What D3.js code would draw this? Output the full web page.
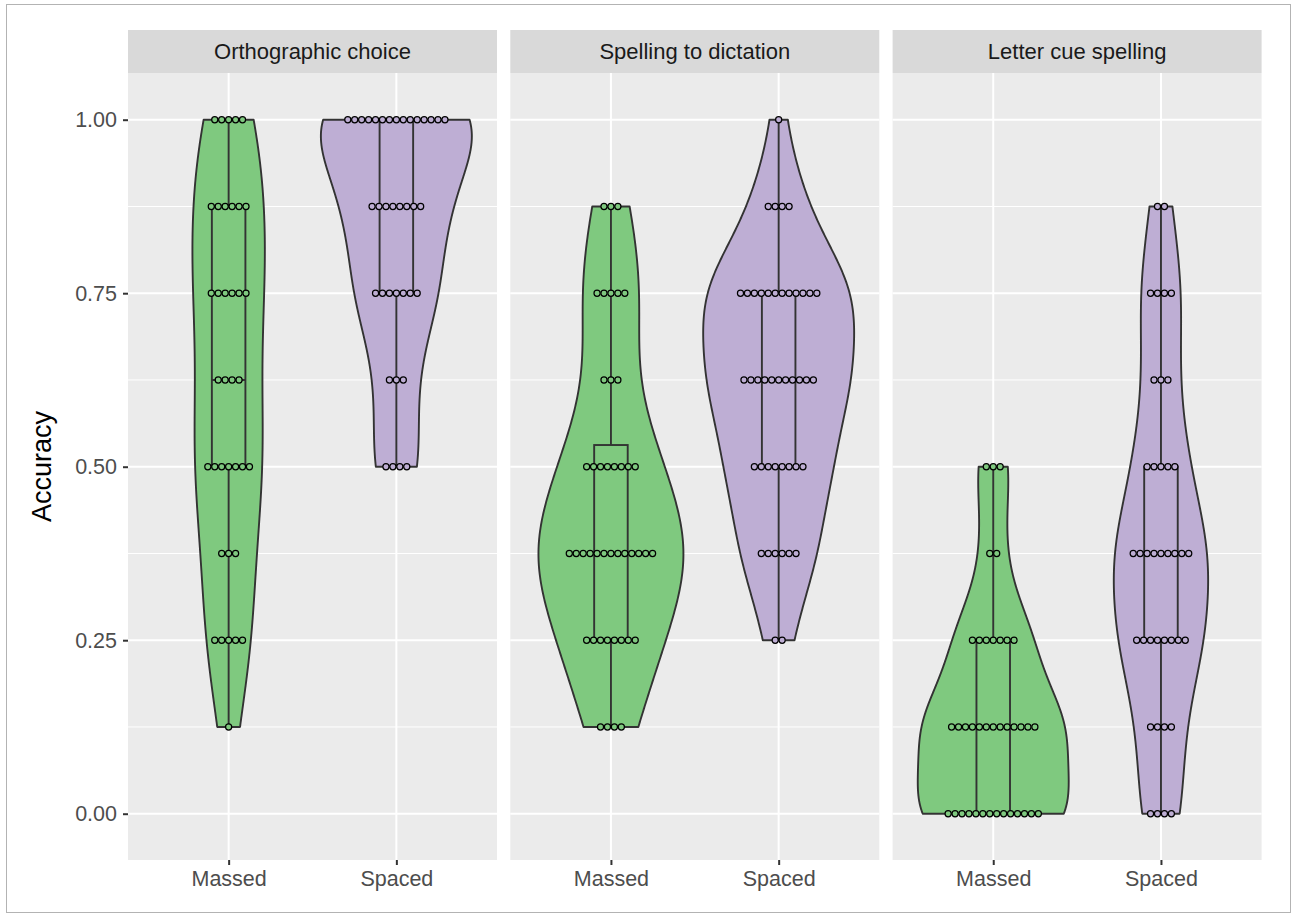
<!DOCTYPE html>
<html>
<head>
<meta charset="utf-8">
<script src="https://cdn.jsdelivr.net/npm/d3@7"></script>
<style>
  body { margin: 0; background: #fff; }
  svg { display: block; }
  text { font-family: "Liberation Sans", Arial, sans-serif; }
</style>
</head>
<body>
<svg id="chart" width="1293" height="917"></svg>
<script>
// facets and groups
const facets = ["Orthographic choice", "Spelling to dictation", "Letter cue spelling"];
const conditions = ["Massed", "Spaced"];
const accuracyLevels = [0, 0.125, 0.25, 0.375, 0.5, 0.625, 0.75, 0.875, 1];
const yTicks = [0, 0.25, 0.5, 0.75, 1];
const yMinor = [0.125, 0.375, 0.625, 0.875];

// number of participants at each accuracy level
const orthoMassed  = [0, 1, 5, 3, 7, 4, 6, 6, 5];
const orthoSpaced  = [0, 0, 0, 0, 4, 3, 7, 8, 15];
const dictMassed   = [0, 4, 8, 13, 8, 3, 5, 3, 0];
const dictSpaced   = [0, 0, 2, 6, 8, 11, 12, 4, 1];
const letterMassed = [14, 13, 7, 2, 3, 0, 0, 0, 0];
const letterSpaced = [4, 4, 8, 9, 5, 3, 4, 2, 0];

const countsByFacet = [
  [orthoMassed, orthoSpaced],
  [dictMassed, dictSpaced],
  [letterMassed, letterSpaced]
];
const colours = { Massed: "#7FC97F", Spaced: "#BEAED4" };

const svg = d3.select("#chart");

const panelTop = 73, panelBottom = 860, stripH = 43;
const panelLeft = 128, panelW = 369, panelGap = 13.3;

const y = d3.scaleLinear().domain([-0.0667, 1.0673]).range([panelBottom, panelTop]);
const x = d3.scalePoint().domain(conditions).range([0, panelW]).padding(0.6);
const dotD = y(0) - y(0.01); // binwidth 0.01

// outer frame
svg.append("rect")
  .attr("x", 6.5).attr("y", 4.5)
  .attr("width", 1284).attr("height", 908)
  .attr("fill", "none").attr("stroke", "#B3B3B3").attr("stroke-width", 1);

function expand(counts) {
  const v = [];
  counts.forEach((c, i) => { for (let k = 0; k < c; k++) v.push(accuracyLevels[i]); });
  return v;
}

function bwNrd0(v) {
  const hi = d3.deviation(v);
  const iqr = d3.quantile(v, 0.75) - d3.quantile(v, 0.25);
  let lo = Math.min(hi, iqr / 1.34);
  if (!lo) lo = hi || Math.abs(v[0]) || 1;
  return 0.9 * lo * Math.pow(v.length, -0.2);
}

function kde(v) {
  const bw = bwNrd0(v);
  const lo = d3.min(v), hi = d3.max(v);
  const n = v.length;
  const pts = [];
  for (let i = 0; i < 512; i++) {
    const t = lo + (hi - lo) * i / 511;
    let s = 0;
    v.forEach(xi => { const z = (t - xi) / bw; s += Math.exp(-0.5 * z * z); });
    pts.push([t, s / (n * bw * Math.sqrt(2 * Math.PI))]);
  }
  return pts;
}

facets.forEach((facet, fi) => {
  const gx = panelLeft + fi * (panelW + panelGap);
  const g = svg.append("g").attr("transform", `translate(${gx},0)`);

  // panel background + grid
  g.append("rect").attr("x", 0).attr("y", panelTop)
    .attr("width", panelW).attr("height", panelBottom - panelTop)
    .attr("fill", "#EBEBEB");
  g.selectAll(".minor").data(yMinor).enter().append("line")
    .attr("x1", 0).attr("x2", panelW)
    .attr("y1", d => y(d)).attr("y2", d => y(d))
    .attr("stroke", "#fff").attr("stroke-width", 1);
  g.selectAll(".major").data(yTicks).enter().append("line")
    .attr("x1", 0).attr("x2", panelW)
    .attr("y1", d => y(d)).attr("y2", d => y(d))
    .attr("stroke", "#fff").attr("stroke-width", 2);
  g.selectAll(".vmajor").data(conditions).enter().append("line")
    .attr("x1", d => x(d)).attr("x2", d => x(d))
    .attr("y1", panelTop).attr("y2", panelBottom)
    .attr("stroke", "#fff").attr("stroke-width", 2);

  // strip
  g.append("rect").attr("x", 0).attr("y", panelTop - stripH)
    .attr("width", panelW).attr("height", stripH).attr("fill", "#D9D9D9");
  g.append("text").attr("x", panelW / 2).attr("y", panelTop - stripH / 2)
    .attr("text-anchor", "middle").attr("dominant-baseline", "central")
    .attr("font-size", 22).attr("fill", "#1A1A1A").text(facet);

  // data
  const groups = conditions.map((c, ci) => {
    const v = expand(countsByFacet[fi][ci]);
    return { cond: c, counts: countsByFacet[fi][ci], values: v, dens: kde(v) };
  });
  const maxDens = d3.max(groups, gr => d3.max(gr.dens, p => p[1]));
  const step = x.step();

  groups.forEach(gr => {
    const xc = x(gr.cond);
    const half = 0.9 * step / 2;
    const left = gr.dens.map(p => [xc - half * p[1] / maxDens, y(p[0])]);
    const right = gr.dens.map(p => [xc + half * p[1] / maxDens, y(p[0])]).reverse();
    g.append("path")
      .attr("d", d3.line()(left.concat(right)) + "Z")
      .attr("fill", colours[gr.cond]).attr("stroke", "#333333")
      .attr("stroke-width", 1.9).attr("stroke-linejoin", "round");

    // boxplot
    const v = gr.values;
    const q1 = d3.quantile(v, 0.25), med = d3.quantile(v, 0.5), q3 = d3.quantile(v, 0.75);
    const iqr = q3 - q1;
    const upper = d3.max(v.filter(d => d <= q3 + 1.5 * iqr));
    const lower = d3.min(v.filter(d => d >= q1 - 1.5 * iqr));
    const bw = 0.2 * step;
    const bx = g.append("g").attr("stroke", "#333333").attr("stroke-width", 1.9);
    bx.append("line").attr("x1", xc).attr("x2", xc).attr("y1", y(q3)).attr("y2", y(upper));
    bx.append("line").attr("x1", xc).attr("x2", xc).attr("y1", y(q1)).attr("y2", y(lower));
    bx.append("rect").attr("x", xc - bw / 2).attr("y", y(q3))
      .attr("width", bw).attr("height", y(q1) - y(q3))
      .attr("fill", colours[gr.cond]);
    bx.append("line").attr("x1", xc - bw / 2).attr("x2", xc + bw / 2)
      .attr("y1", y(med)).attr("y2", y(med));

    // dots, stacked centred
    const dots = [];
    gr.counts.forEach((c, li) => {
      for (let k = 0; k < c; k++) dots.push({ lv: accuracyLevels[li], off: k - (c - 1) / 2 });
    });
    g.selectAll(null).data(dots).enter().append("circle")
      .attr("cx", d => xc + d.off * dotD)
      .attr("cy", d => y(d.lv))
      .attr("r", dotD / 2 - 0.4)
      .attr("fill", colours[gr.cond])
      .attr("stroke", "#000").attr("stroke-width", 1.2);
  });

  // x axis
  const xa = g.append("g").attr("transform", `translate(0,${panelBottom})`)
    .call(d3.axisBottom(x).tickSize(5).tickPadding(6));
  xa.select(".domain").remove();
  xa.selectAll(".tick line").attr("stroke", "#333333").attr("stroke-width", 2);
  xa.selectAll(".tick text").attr("fill", "#4D4D4D").attr("font-size", 21.5);

  if (fi === 0) {
    const ya = g.append("g")
      .call(d3.axisLeft(y).tickValues(yTicks).tickFormat(d3.format(".2f")).tickSize(5).tickPadding(6));
    ya.select(".domain").remove();
    ya.selectAll(".tick line").attr("stroke", "#333333").attr("stroke-width", 2);
    ya.selectAll(".tick text").attr("fill", "#4D4D4D").attr("font-size", 21.5);
  }
});

svg.append("text")
  .attr("transform", `translate(42,${(panelTop + panelBottom) / 2}) rotate(-90)`)
  .attr("text-anchor", "middle").attr("dominant-baseline", "central")
  .attr("font-size", 27).attr("fill", "#000").text("Accuracy");
</script>
</body>
</html>
